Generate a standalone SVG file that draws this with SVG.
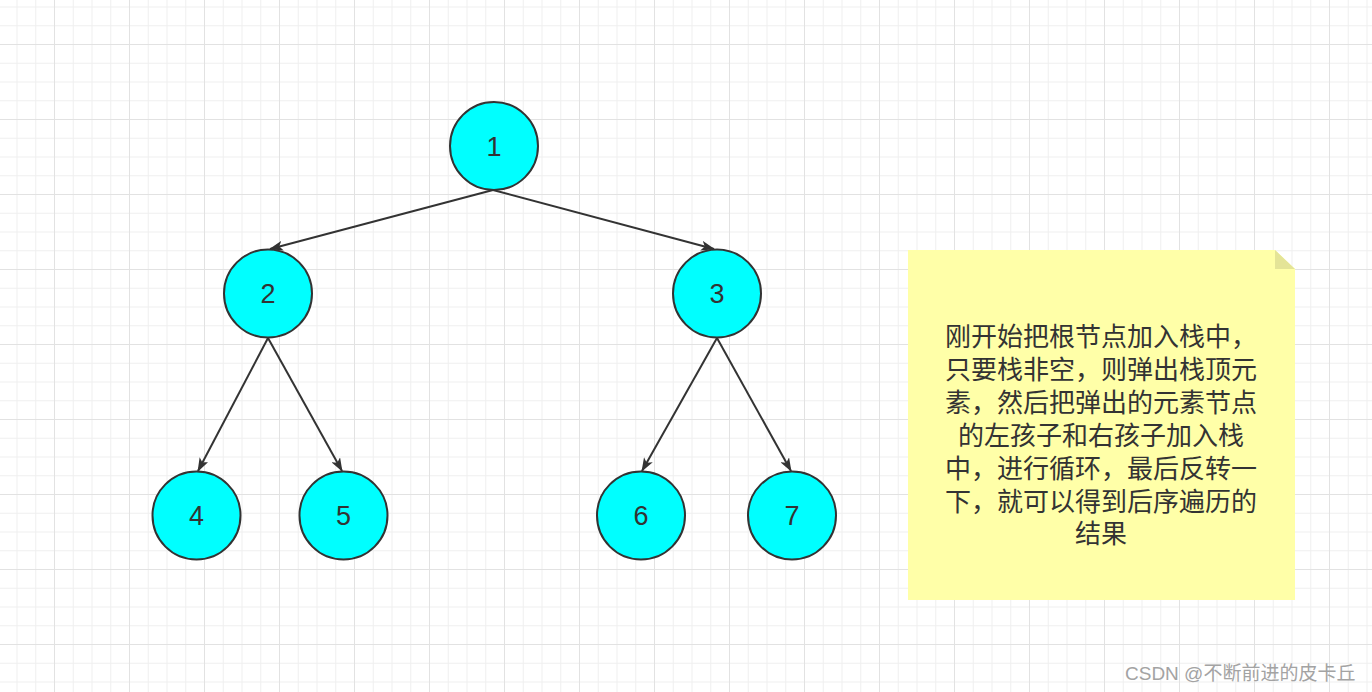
<svg xmlns="http://www.w3.org/2000/svg" width="1372" height="692" viewBox="0 0 1372 692">
<style>
.node circle{fill:#00ffff;stroke:#333333;stroke-width:2}
.node text{font-family:"Liberation Sans","Noto Sans",sans-serif;font-size:27px;fill:#333333;text-anchor:middle}
.edge{stroke:#333333;stroke-width:2;fill:none;marker-end:url(#arrow)}
.note text{font-family:"Noto Sans CJK SC",sans-serif;font-size:26px;fill:#333333;text-anchor:middle}
.wm{font-family:"Liberation Sans","Noto Sans CJK SC",sans-serif;font-size:19px;fill:#a3a3a3}
</style>
<defs>
<pattern id="grid" x="54" y="44" width="75" height="75" patternUnits="userSpaceOnUse">
<rect x="0" y="0" width="75" height="75" fill="#ffffff"/>
<g fill="#f0f0f0">
<rect x="18.75" y="0" width="1" height="75"/>
<rect x="37.5" y="0" width="1" height="75"/>
<rect x="56.25" y="0" width="1" height="75"/>
<rect x="0" y="18.75" width="75" height="1"/>
<rect x="0" y="37.5" width="75" height="1"/>
<rect x="0" y="56.25" width="75" height="1"/>
</g>
<g fill="#e2e2e2">
<rect x="0" y="0" width="1" height="75"/>
<rect x="0" y="0" width="75" height="1"/>
</g>
</pattern>
<marker id="arrow" viewBox="0 0 14 10" refX="13" refY="5" markerWidth="14" markerHeight="10" markerUnits="userSpaceOnUse" orient="auto">
<path d="M0,0 L14,5 L0,10 L3.5,5 Z" fill="#333333"/>
</marker>
</defs>
<rect x="0" y="0" width="1372" height="692" fill="url(#grid)"/>
<g id="connectors">
<line class="edge" x1="493" y1="190" x2="270" y2="249"/>
<line class="edge" x1="493" y1="190" x2="714" y2="249"/>
<line class="edge" x1="268" y1="338" x2="198" y2="471"/>
<line class="edge" x1="268" y1="338" x2="342" y2="471"/>
<line class="edge" x1="717" y1="338" x2="642" y2="471"/>
<line class="edge" x1="717" y1="338" x2="791" y2="471"/>
</g>
<g id="node1" class="node"><circle cx="494" cy="146" r="44"/><text x="494" y="155.5">1</text></g>
<g id="node2" class="node"><circle cx="268" cy="293.5" r="44"/><text x="268" y="303">2</text></g>
<g id="node3" class="node"><circle cx="717" cy="293.5" r="44"/><text x="717" y="303">3</text></g>
<g id="node4" class="node"><circle cx="196.5" cy="515.5" r="44"/><text x="196.5" y="525">4</text></g>
<g id="node5" class="node"><circle cx="343.5" cy="515.5" r="44"/><text x="343.5" y="525">5</text></g>
<g id="node6" class="node"><circle cx="641" cy="515.5" r="44"/><text x="641" y="525">6</text></g>
<g id="node7" class="node"><circle cx="792" cy="515.5" r="44"/><text x="792" y="525">7</text></g>
<g id="note" class="note">
<path d="M908,250 L1275,250 L1295,269 L1295,600 L908,600 Z" fill="#ffffa8"/>
<path d="M1275,250 L1275,269 L1295,269 Z" fill="#e4e497"/>
<text x="1101" y="346">刚开始把根节点加入栈中，<tspan x="1101" dy="33">只要栈非空，则弹出栈顶元</tspan><tspan x="1101" dy="33">素，然后把弹出的元素节点</tspan><tspan x="1101" dy="33">的左孩子和右孩子加入栈</tspan><tspan x="1101" dy="33">中，进行循环，最后反转一</tspan><tspan x="1101" dy="33">下，就可以得到后序遍历的</tspan><tspan x="1101" dy="32">结果</tspan></text>
</g>
<text class="wm" x="1125" y="680">CSDN @不断前进的皮卡丘</text>
</svg>
